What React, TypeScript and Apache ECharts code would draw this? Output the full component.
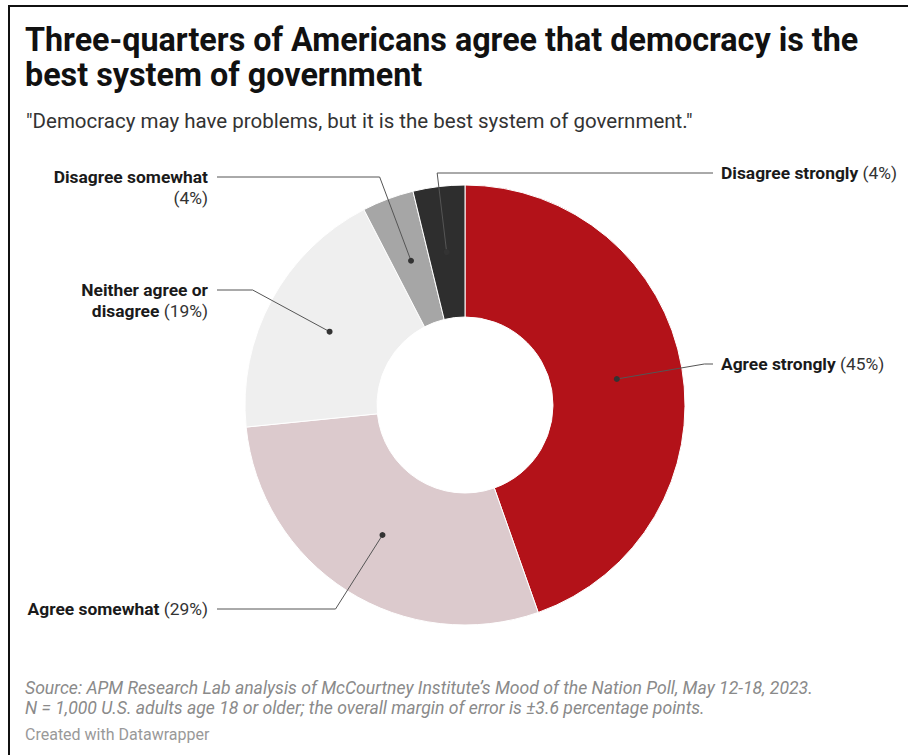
import React, { useEffect, useRef } from "react";
import * as echarts from "echarts";

const categories = [
  "Agree strongly",
  "Agree somewhat",
  "Neither agree or disagree",
  "Disagree somewhat",
  "Disagree strongly",
];
const shares = [44.6, 28.8, 19.0, 3.8, 3.8];
const labelParts = [
  ["Agree strongly"],
  ["Agree somewhat"],
  ["Neither agree or", "disagree"],
  ["Disagree somewhat"],
  ["Disagree strongly"],
];
const sliceColors = ["#b31219", "#dccacd", "#efefef", "#a6a6a6", "#2e2e2e"];

const titleLines = [
  "Three-quarters of Americans agree that democracy is the",
  "best system of government",
];
const subtitle = '"Democracy may have problems, but it is the best system of government."';
const notes = [
  "Source: APM Research Lab analysis of McCourtney Institute\u2019s Mood of the Nation Poll, May 12-18, 2023.",
  "N = 1,000 U.S. adults age 18 or older; the overall margin of error is \u00b13.6 percentage points.",
];
const credit = "Created with Datawrapper";

// layout (not data)
const CX = 465;
const CY = 405;
const R_IN = 88;
const R_OUT = 220;
const labelLayout = [
  { side: "right", y: 364, pctOnNewLine: false },
  { side: "left", y: 609, pctOnNewLine: false },
  { side: "left", y: 290, pctOnNewLine: false },
  { side: "left", y: 177, pctOnNewLine: true },
  { side: "right", y: 173, pctOnNewLine: false },
];
const FONT = "Roboto";
const LH = 21;
const LFS = 17.4;

export default function App() {
  const ref = useRef<HTMLDivElement>(null);
  useEffect(() => {
    if (!ref.current) return;
    const chart = echarts.init(ref.current, null, { renderer: "svg" });
    const total = shares.reduce((a, b) => a + b, 0);
    const graphics: any[] = [];
    // frame
    graphics.push({
      type: "line",
      shape: { x1: 8, y1: 6, x2: 908, y2: 6 },
      style: { stroke: "#111", lineWidth: 2 },
    });
    graphics.push({
      type: "line",
      shape: { x1: 9, y1: 5, x2: 9, y2: 755 },
      style: { stroke: "#111", lineWidth: 2 },
    });
    titleLines.forEach((t, i) => {
      graphics.push({
        type: "text",
        x: 25,
        y: 40 + i * 35,
        style: {
          text: t,
          font: `bold 32.3px ${FONT}`,
          fill: "#111",
          verticalAlign: "middle",
        },
      });
    });
    graphics.push({
      type: "text",
      x: 26,
      y: 121,
      style: { text: subtitle, font: `20.5px ${FONT}`, fill: "#333", verticalAlign: "middle" },
    });
    notes.forEach((t, i) => {
      graphics.push({
        type: "text",
        x: 25,
        y: 688 + i * 20,
        style: { text: t, font: `italic 17.6px ${FONT}`, fill: "#8a8a8a", verticalAlign: "middle" },
      });
    });
    graphics.push({
      type: "text",
      x: 25,
      y: 734,
      style: { text: credit, font: `16px ${FONT}`, fill: "#999", verticalAlign: "middle" },
    });

    // leader lines and labels
    let cum = 0;
    const rMid = (R_IN + R_OUT) / 2;
    shares.forEach((v, i) => {
      const mid = ((cum + v / 2) / total) * Math.PI * 2;
      cum += v;
      const s = Math.sin(mid);
      const c = Math.cos(mid);
      const dx = CX + rMid * s;
      const dy = CY - rMid * c;
      const lay = labelLayout[i];
      const t = (CY - lay.y) / c;
      const ex = CX + t * s;
      const endX = lay.side === "right" ? 713 : 217;
      graphics.push({
        type: "polyline",
        shape: { points: [[dx, dy], [ex, lay.y], [endX, lay.y]] },
        style: { stroke: "#555", lineWidth: 1, fill: null },
        z: 10,
      });
      graphics.push({
        type: "circle",
        shape: { cx: dx, cy: dy, r: 3 },
        style: { fill: "#333" },
        z: 11,
      });
      const pct = `{n|(${Math.round(v)}%)}`;
      const parts = labelParts[i].map((p) => `{b|${p}}`);
      let lines: string[];
      if (lay.pctOnNewLine) lines = [...parts, pct];
      else {
        lines = [...parts];
        lines[lines.length - 1] = lines[lines.length - 1] + " " + pct;
      }
      graphics.push({
        type: "text",
        x: lay.side === "right" ? 721 : 208,
        y: lay.y - LH / 2,
        z: 12,
        style: {
          text: lines.join("\n"),
          align: lay.side === "right" ? "left" : "right",
          verticalAlign: "top",
          font: `${LFS}px ${FONT}`,
          rich: {
            b: { fontFamily: FONT, fontWeight: "bold", fontSize: LFS, fill: "#1a1a1a", lineHeight: LH },
            n: { fontFamily: FONT, fontSize: LFS, fill: "#333", lineHeight: LH },
          },
        },
      });
    });

    chart.setOption({
      animation: false,
      backgroundColor: "#fff",
      series: [
        {
          type: "pie",
          center: [CX, CY],
          radius: [R_IN, R_OUT],
          startAngle: 90,
          clockwise: true,
          label: { show: false },
          labelLine: { show: false },
          emphasis: { disabled: true },
          itemStyle: { borderColor: "#fff", borderWidth: 1 },
          data: categories.map((n, i) => ({
            name: n,
            value: shares[i],
            itemStyle: { color: sliceColors[i] },
          })),
        },
      ],
      graphic: graphics,
    });
    return () => chart.dispose();
  }, []);
  return (
    <div
      ref={ref}
      style={{ position: "fixed", left: 0, top: 0, width: 908, height: 755 }}
    />
  );
}
